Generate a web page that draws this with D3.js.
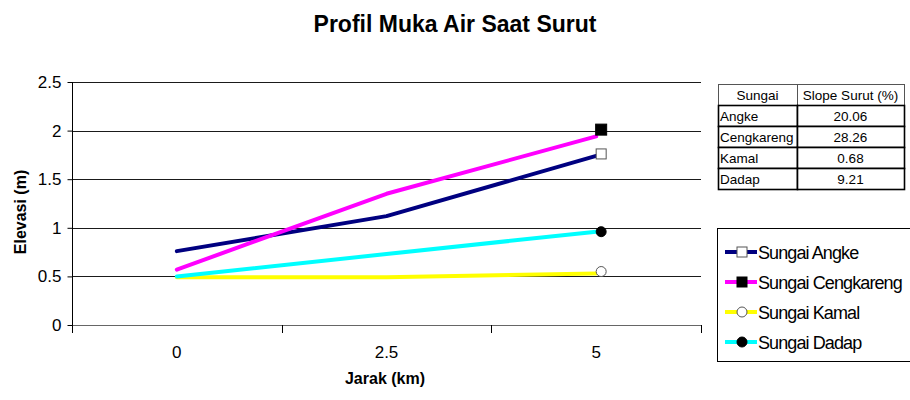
<!DOCTYPE html>
<html>
<head>
<meta charset="utf-8">
<script src="https://cdn.jsdelivr.net/npm/d3@7"></script>
<style>
  html, body { margin: 0; padding: 0; background: #fff; }
  svg { display: block; font-family: Arial, "Liberation Sans", sans-serif; }
</style>
</head>
<body>
<svg id="chart" width="910" height="400"></svg>
<script>
// ---- data ----
const categories = ["0", "2.5", "5"];
const seriesNames = ["Sungai Angke", "Sungai Cengkareng", "Sungai Kamal", "Sungai Dadap"];
const angke = [0.76, 1.12, 1.74];
const cengkareng = [0.57, 1.35, 1.94];
const kamal = [0.49, 0.49, 0.53];
const dadap = [0.50, 0.73, 0.96];
const endMarkers = [1.76, 2.01, 0.55, 0.96];   // marker values at "5"
const yTicks = [0, 0.5, 1, 1.5, 2, 2.5];
const yTickLabels = ["0", "0.5", "1", "1.5", "2", "2.5"];
const tableHeader = ["Sungai", "Slope Surut (%)"];
const tableRivers = ["Angke", "Cengkareng", "Kamal", "Dadap"];
const tableSlopes = ["20.06", "28.26", "0.68", "9.21"];

// ---- styles ----
const colors = ["#000080", "#ff00ff", "#ffff00", "#00ffff"];
const markerShape = ["square", "square", "circle", "circle"];
const markerFill = ["#ffffff", "#000000", "#ffffff", "#000000"];
const markerStroke = ["#555555", "#000000", "#555555", "#000000"];

const svg = d3.select("#chart");
const pLeft = 72, pRight = 701, pTop = 82, pBottom = 325;

const x = d3.scaleBand().domain(categories).range([pLeft, pRight]).paddingInner(0).paddingOuter(0);
const y = d3.scaleLinear().domain([0, 2.5]).range([pBottom, pTop]);
const cx = c => x(c) + x.bandwidth() / 2;

// title
svg.append("text").attr("x", 455).attr("y", 32).attr("text-anchor", "middle")
  .attr("font-size", 23).attr("font-weight", "bold").text("Profil Muka Air Saat Surut");

// gridlines
svg.append("g").selectAll("line").data(yTicks.filter(d => d > 0)).join("line")
  .attr("x1", pLeft).attr("x2", pRight)
  .attr("y1", d => Math.round(y(d)) + 0.5).attr("y2", d => Math.round(y(d)) + 0.5)
  .attr("stroke", "#1a1a1a").attr("stroke-width", 1);

// y axis
const yAxis = d3.axisLeft(y).tickValues(yTicks).tickFormat((d, i) => yTickLabels[i]).tickSizeOuter(0).tickSize(5).tickPadding(6);
const gy = svg.append("g").attr("transform", `translate(${pLeft + 0.5},0)`).call(yAxis);
gy.select(".domain").remove();
gy.selectAll(".tick line").attr("stroke", "#000");
gy.selectAll("text").attr("font-size", 17).attr("font-family", "Arial, 'Liberation Sans', sans-serif").attr("fill", "#000");
svg.append("line").attr("x1", pLeft + 0.5).attr("x2", pLeft + 0.5).attr("y1", pTop).attr("y2", pBottom + 8).attr("stroke", "#000");

// x axis
svg.append("line").attr("x1", pLeft).attr("x2", pRight).attr("y1", pBottom + 0.5).attr("y2", pBottom + 0.5).attr("stroke", "#666");
const boundaries = categories.map(c => x(c)).concat([pRight]);
svg.append("g").selectAll("line").data(boundaries).join("line")
  .attr("x1", d => Math.round(d) + 0.5).attr("x2", d => Math.round(d) + 0.5)
  .attr("y1", pBottom).attr("y2", pBottom + 8).attr("stroke", "#000");
svg.append("g").selectAll("text").data(categories).join("text")
  .attr("x", d => cx(d)).attr("y", 358).attr("text-anchor", "middle")
  .attr("font-size", 17).text(d => d);

// axis titles
svg.append("text").attr("transform", "translate(26,212) rotate(-90)").attr("text-anchor", "middle")
  .attr("font-size", 16).attr("font-weight", "bold").text("Elevasi (m)");
svg.append("text").attr("x", 385).attr("y", 384).attr("text-anchor", "middle")
  .attr("font-size", 16).attr("font-weight", "bold").text("Jarak (km)");

// lines
const allSeries = [angke, cengkareng, kamal, dadap];
const line = d3.line().x((d, i) => cx(categories[i])).y(d => y(d));
const drawOrder = [2, 3, 0, 1];
svg.append("g").selectAll("path").data(drawOrder).join("path")
  .attr("d", i => line(allSeries[i]))
  .attr("fill", "none").attr("stroke", i => colors[i]).attr("stroke-width", 4)
  .attr("stroke-linecap", "round").attr("stroke-linejoin", "round");

// end markers
const mg = svg.append("g");
const mx = cx(categories[2]) + 5;
endMarkers.forEach((v, i) => {
  if (markerShape[i] === "square") {
    const s = i === 1 ? 11 : 10;
    mg.append("rect").attr("x", mx - s / 2).attr("y", y(v) - s / 2).attr("width", s).attr("height", s)
      .attr("fill", markerFill[i]).attr("stroke", markerStroke[i]).attr("stroke-width", 1);
  } else {
    mg.append("circle").attr("cx", mx).attr("cy", y(v)).attr("r", 5)
      .attr("fill", markerFill[i]).attr("stroke", markerStroke[i]).attr("stroke-width", 1);
  }
});

// table
const tx = 718, tw1 = 79, tw2 = 107, rh = 21, ty = 84;
const tg = svg.append("g");
const rows = [tableHeader].concat(tableRivers.map((r, i) => [r, tableSlopes[i]]));
rows.forEach((r, i) => {
  const yy = ty + i * rh;
  tg.append("rect").attr("x", tx + 0.5).attr("y", yy + 0.5).attr("width", tw1).attr("height", rh)
    .attr("fill", "#fff").attr("stroke", i === 0 ? "#555" : "#000").attr("stroke-width", i === 0 ? 1 : 1.6);
  tg.append("rect").attr("x", tx + tw1 + 0.5).attr("y", yy + 0.5).attr("width", tw2).attr("height", rh)
    .attr("fill", "#fff").attr("stroke", i === 0 ? "#555" : "#000").attr("stroke-width", i === 0 ? 1 : 1.6);
  tg.append("text").attr("x", i === 0 ? tx + tw1 / 2 : tx + 2).attr("y", yy + 16)
    .attr("text-anchor", i === 0 ? "middle" : "start").attr("font-size", 13.5).text(r[0]);
  tg.append("text").attr("x", tx + tw1 + tw2 / 2).attr("y", yy + 16)
    .attr("text-anchor", "middle").attr("font-size", 13.5).text(r[1]);
});

// legend
const lg = svg.append("g");
lg.append("rect").attr("x", 717.5).attr("y", 228.5).attr("width", 200).attr("height", 133)
  .attr("fill", "#fff").attr("stroke", "#000");
seriesNames.forEach((n, i) => {
  const ly = 252 + i * 30;
  lg.append("line").attr("x1", 725).attr("x2", 757).attr("y1", ly).attr("y2", ly)
    .attr("stroke", colors[i]).attr("stroke-width", 4);
  if (markerShape[i] === "square") {
    lg.append("rect").attr("x", 737).attr("y", ly - 5).attr("width", 10).attr("height", 10)
      .attr("fill", markerFill[i]).attr("stroke", markerStroke[i]);
  } else {
    lg.append("circle").attr("cx", 742).attr("cy", ly).attr("r", 5)
      .attr("fill", markerFill[i]).attr("stroke", markerStroke[i]);
  }
  lg.append("text").attr("x", 758).attr("y", ly + 7).attr("font-size", 18)
    .attr("letter-spacing", -0.9).text(n);
});
</script>
</body>
</html>
